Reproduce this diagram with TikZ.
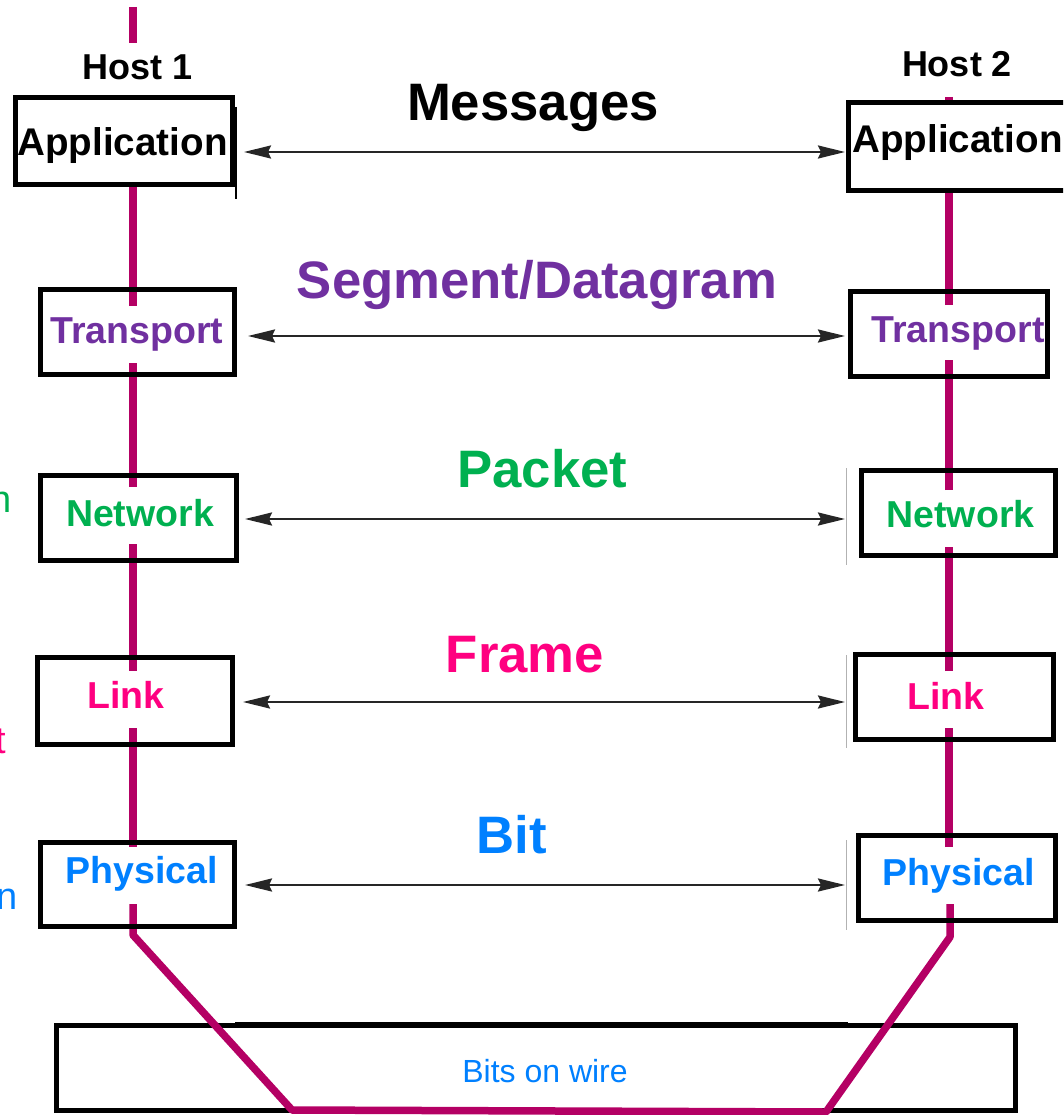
\documentclass[tikz,border=0pt]{standalone}
\usepackage{fontspec}
\setmainfont{Liberation Sans}
\usetikzlibrary{arrows.meta}
\definecolor{wire}{RGB}{180,0,100}
\definecolor{cpurple}{RGB}{112,48,160}
\definecolor{cgreen}{RGB}{0,176,80}
\definecolor{cpink}{RGB}{255,0,128}
\definecolor{cblue}{RGB}{0,128,255}
\definecolor{arrowgray}{RGB}{38,38,38}
\begin{document}
\begin{tikzpicture}[x=1pt,y=-1pt,
  layerbox/.style={draw=black, line width=4.8pt, inner sep=0pt},
  lbl/.style={font=\bfseries\fontsize{37.5}{40}\selectfont, anchor=base, inner sep=0pt},
  applbl/.style={font=\bfseries\fontsize{38.6}{40}\selectfont, anchor=base, inner sep=0pt},
  hostlbl/.style={font=\bfseries\fontsize{36}{40}\selectfont, anchor=base, inner sep=0pt},
  big/.style={font=\bfseries\fontsize{52.7}{56}\selectfont, anchor=base, inner sep=0pt},
  wireline/.style={draw=wire, line width=7.5pt},
  msg/.style={draw=arrowgray, line width=2.6pt, {Stealth[length=27pt,width=13pt,inset=3pt]}-{Stealth[length=27pt,width=13pt,inset=3pt]}},
  ghost/.style={draw=gray!60, line width=1pt},
  cut/.style={font=\fontsize{38}{40}\selectfont, anchor=base east, inner sep=0pt}
]
\useasboundingbox (0,0) rectangle (1063,1115);
\clip (0,0) rectangle (1063,1115);

% bottom wire box
\node[layerbox, minimum width=959.5pt, minimum height=85.5pt] (W) at (536,1068) {};
\draw[black, line width=6pt] (235,1025) -- (848,1025);
\node[font=\fontsize{32}{36}\selectfont, text=cblue, anchor=base, inner sep=0pt] (Wt) at (545,1082) {Bits on wire};

% magenta host lines
\draw[wireline] (133,7) -- (133,43);
\draw[wireline] (133,187) -- (133,306);
\draw[wireline] (133,363) -- (133,487);
\draw[wireline] (133,544) -- (133,671);
\draw[wireline] (133,728) -- (133,847);
\draw[wireline, line join=round] (133,904) -- (133,935) -- (292,1110) -- (826,1112) -- (950,937) -- (950,904);
\draw[wireline] (949,847) -- (949,728);
\draw[wireline] (949,671) -- (949,547);
\draw[wireline] (949,490) -- (949,360);
\draw[wireline] (949,305) -- (949,193);
\draw[wireline] (949,97) -- (949,104);

% left host boxes
\node[layerbox, minimum width=217.5pt, minimum height=87.5pt] (A1) at (124,141) {};
\node[layerbox, minimum width=194.5pt, minimum height=85.5pt] (T1) at (137.5,332) {};
\node[layerbox, minimum width=196.5pt, minimum height=85.5pt] (N1) at (138.5,518) {};
\node[layerbox, minimum width=195.5pt, minimum height=87.5pt] (L1) at (135,701) {};
\node[layerbox, minimum width=194.5pt, minimum height=84.5pt] (P1) at (137.5,884.5) {};
% right host boxes
\node[layerbox, minimum width=224.5pt, minimum height=88.5pt] (A2) at (960.5,146.5) {};
\node[layerbox, minimum width=197.5pt, minimum height=85.5pt] (T2) at (949,334) {};
\node[layerbox, minimum width=194.5pt, minimum height=85.5pt] (N2) at (958.5,513) {};
\node[layerbox, minimum width=198.5pt, minimum height=85.5pt] (L2) at (954.5,697) {};
\node[layerbox, minimum width=197.5pt, minimum height=85.5pt] (P2) at (957,878) {};

% faint edge artefacts
\draw[black, line width=1.5pt] (236,107) -- (236,199);
\draw[ghost] (846,468) -- (846,565);
\draw[ghost] (846,655) -- (846,748);
\draw[ghost] (846,840) -- (846,930);

% box labels
\node[applbl] (A1t) at (122.5,156) {Application};
\node[lbl, text=cpurple] (T1t) at (137,343) {Transport};
\node[lbl, text=cgreen] (N1t) at (140,526) {Network};
\node[lbl, text=cpink] (L1t) at (126,708) {Link};
\node[lbl, text=cblue] (P1t) at (141.5,883) {Physical};
\node[applbl] (A2t) at (957.5,153) {Application};
\node[lbl, text=cpurple] (T2t) at (958,342) {Transport};
\node[lbl, text=cgreen] (N2t) at (960.5,527) {Network};
\node[lbl, text=cpink] (L2t) at (946,709) {Link};
\node[lbl, text=cblue] (P2t) at (959,885) {Physical};

% host titles
\node[hostlbl] (H1) at (137.5,80) {Host 1};
\node[hostlbl] (H2) at (957,77) {Host 2};

% unit labels
\node[big] (Mt) at (533,121) {Messages};
\node[big, text=cpurple] (St) at (537,298) {Segment/Datagram};
\node[big, text=cgreen] (Pt) at (542.5,487) {Packet};
\node[big, text=cpink] (Ft) at (525,672) {Frame};
\node[big, text=cblue] (Bt) at (511.5,853) {Bit};

% arrows
\coordinate (m1) at (244,152);  \coordinate (m2) at (845,152);
\coordinate (s1) at (248,336);  \coordinate (s2) at (845,336);
\coordinate (p1) at (245,519);  \coordinate (p2) at (845,519);
\coordinate (f1) at (243,702);  \coordinate (f2) at (845,702);
\coordinate (b1) at (245,885);  \coordinate (b2) at (845,885);
\draw[msg] (m1) -- (m2);
\draw[msg] (s1) -- (s2);
\draw[msg] (p1) -- (p2);
\draw[msg] (f1) -- (f2);
\draw[msg] (b1) -- (b2);

% cut-off letters at the left edge (cut off in the reference too)
\node[cut, text=cgreen] (cn1) at (12,512) {n};
\node[cut, text=cpink] (ct) at (6,753) {t};
\node[cut, text=cblue] (cn2) at (18,909) {n};
\end{tikzpicture}
\end{document}
